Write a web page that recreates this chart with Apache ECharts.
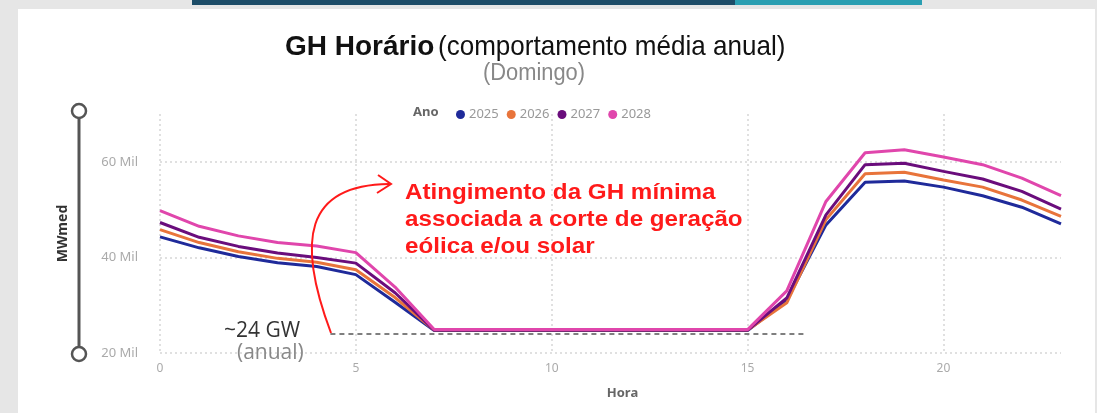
<!DOCTYPE html>
<html>
<head>
<meta charset="utf-8">
<script src="https://cdn.jsdelivr.net/npm/echarts@6/dist/echarts.min.js"></script>
<style>
  html, body { margin: 0; padding: 0; background: #e6e6e6; }
  #main { width: 1097px; height: 413px; }
</style>
</head>
<body>
<div id="main"></div>
<script>
// horas do dia
var hours = [0, 1, 2, 3, 4, 5, 6, 7, 8, 9, 10, 11, 12, 13, 14, 15, 16, 17, 18, 19, 20, 21, 22, 23]
// GH horária média anual de domingo (Mil MWmed)
var gh2025 = [44.3, 42.0, 40.2, 38.9, 38.1, 36.4, 30.6, 24.7, 24.7, 24.7, 24.7, 24.7, 24.7, 24.7, 24.7, 24.7, 31.0, 46.8, 55.7, 56.0, 54.7, 52.9, 50.5, 47.0]
var gh2026 = [45.8, 43.1, 41.2, 39.8, 39.0, 37.4, 31.6, 24.8, 24.8, 24.8, 24.8, 24.8, 24.8, 24.8, 24.8, 24.8, 30.5, 47.9, 57.5, 57.8, 56.2, 54.7, 52.0, 48.6]
var gh2027 = [47.3, 44.2, 42.3, 40.9, 40.0, 38.8, 32.6, 24.8, 24.8, 24.8, 24.8, 24.8, 24.8, 24.8, 24.8, 24.8, 31.5, 48.9, 59.4, 59.7, 58.0, 56.4, 53.8, 50.1]
var gh2028 = [49.8, 46.5, 44.5, 43.1, 42.4, 41.0, 33.8, 24.9, 24.9, 24.9, 24.9, 24.9, 24.9, 24.9, 24.9, 24.9, 33.0, 51.7, 61.9, 62.5, 61.0, 59.4, 56.6, 52.9]
var anos = ['2025', '2026', '2027', '2028']
var cores = ['#1f2a9a', '#e8743b', '#6a0d7c', '#e046ac']
// patamar minimo (~24 GW) e faixa de horas da linha tracejada
var ghMinima = 24.1
var faixaMinima = [4.35, 16.45]

var chartDom = document.getElementById('main')
var myChart = echarts.init(chartDom)

var series = [gh2025, gh2026, gh2027, gh2028].map(function (vals, i) {
    return {
        name: anos[i],
        type: 'line',
        showSymbol: false,
        symbol: 'circle',
        lineStyle: { width: 3 },
        data: hours.map(function (h, j) { return [h, vals[j]] }),
        z: 3 + i
    }
})

// linha tracejada ~24 GW
series.push({
    type: 'line',
    data: [],
    markLine: {
        silent: true,
        symbol: 'none',
        label: { show: false },
        lineStyle: { color: '#555', type: [5, 4], width: 1.5 },
        data: [[{ coord: [faixaMinima[0], ghMinima] }, { coord: [faixaMinima[1], ghMinima] }]]
    }
})

var font = "'Noto Sans', 'Open Sans', sans-serif"
var fontTitulo = "'Liberation Sans', Arial, sans-serif"

myChart.setOption({
    backgroundColor: '#e6e6e6',
    color: cores,
    animation: false,
    legend: {
        left: 451,
        top: 103,
        icon: 'circle',
        itemWidth: 9,
        itemHeight: 9,
        itemGap: 8,
        data: anos,
        textStyle: { fontFamily: font, fontSize: 13, color: '#999', padding: [0, 0, 0, -1] }
    },
    grid: { left: 160, right: 36, top: 114, bottom: 60 },
    xAxis: {
        type: 'value',
        min: 0,
        max: 23,
        interval: 5,
        name: 'Hora',
        nameLocation: 'middle',
        nameGap: 34,
        nameTextStyle: { fontFamily: font, fontSize: 13, fontWeight: 'bold', color: '#666', padding: [0, 0, 0, 24] },
        axisLine: { show: false },
        axisTick: { show: false },
        axisLabel: { showMaxLabel: false, margin: 10, fontFamily: font, fontSize: 12, color: '#aaa' },
        splitLine: { showMaxLine: false, lineStyle: { color: '#d6d6d6', type: [2, 3], width: 1.5 } }
    },
    yAxis: {
        type: 'value',
        min: 20,
        max: 70,
        interval: 20,
        name: 'MWmed',
        nameLocation: 'middle',
        nameRotate: 90,
        nameGap: 90,
        nameTextStyle: { fontFamily: font, fontSize: 14, fontWeight: 'bold', color: '#333' },
        axisLine: { show: false },
        axisTick: { show: false },
        axisLabel: {
            showMaxLabel: false,
            margin: 22,
            fontFamily: font,
            fontSize: 13,
            color: '#aaa',
            formatter: function (v) { return v + ' Mil' }
        },
        splitLine: { showMaxLine: false, lineStyle: { color: '#d6d6d6', type: [2, 3], width: 1.5 } }
    },
    graphic: [
        // painel branco
        { type: 'rect', z: -10, shape: { x: 18, y: 9, width: 1077, height: 410 }, style: { fill: '#fff' } },
        // faixa superior
        { type: 'rect', z: -10, shape: { x: 192, y: 0, width: 543, height: 5 }, style: { fill: '#1d4d68' } },
        { type: 'rect', z: -10, shape: { x: 735, y: 0, width: 187, height: 5 }, style: { fill: '#2a9fb2' } },
        // titulo
        { type: 'text', left: 285, top: 33, style: { text: 'GH Horário', font: 'bold 28px ' + fontTitulo, fill: '#111' } },
        { type: 'text', x: 438, y: 33, scaleX: 0.93, style: { text: '(comportamento média anual)', font: '28px ' + fontTitulo, fill: '#111' } },
        { type: 'text', x: 483, y: 62, scaleX: 0.95, style: { text: '(Domingo)', font: '23px ' + fontTitulo, fill: '#888' } },
        // slider do eixo y
        { type: 'line', z: 5, shape: { x1: 79, y1: 111, x2: 79, y2: 354 }, style: { stroke: '#555', lineWidth: 3 } },
        { type: 'circle', z: 6, shape: { cx: 79, cy: 111, r: 7 }, style: { fill: '#fff', stroke: '#555', lineWidth: 2.5 } },
        { type: 'circle', z: 6, shape: { cx: 79, cy: 354, r: 7 }, style: { fill: '#fff', stroke: '#555', lineWidth: 2.5 } },
        // titulo da legenda
        { type: 'text', left: 413, top: 106, style: { text: 'Ano', font: "bold 13px 'Noto Sans', sans-serif", fill: '#666' } },
        // anotacao
        {
            type: 'text', z: 20, x: 405, y: 179, scaleX: 1.1,
            style: {
                text: 'Atingimento da GH mínima\nassociada a corte de geração\neólica e/ou solar',
                font: 'bold 22px ' + fontTitulo,
                lineHeight: 27,
                fill: '#ff1a1a'
            }
        },
        {
            type: 'bezierCurve', z: 20,
            shape: { x1: 331, y1: 333, cpx1: 296, cpy1: 240, cpx2: 305, cpy2: 185, x2: 389, y2: 184 },
            style: { stroke: '#ff1a1a', lineWidth: 2, fill: null }
        },
        {
            type: 'polyline', z: 20,
            shape: { points: [[378, 175], [391, 184], [377, 193]] },
            style: { stroke: '#ff1a1a', lineWidth: 2, fill: null }
        },
        { type: 'text', z: 20, left: 224, top: 321, style: { text: '~24 GW', font: "21px 'Open Sans', sans-serif", fill: '#333' } },
        { type: 'text', z: 20, left: 237, top: 343, style: { text: '(anual)', font: "21px 'Open Sans', sans-serif", fill: '#888' } }
    ],
    series: series
})
</script>
</body>
</html>
